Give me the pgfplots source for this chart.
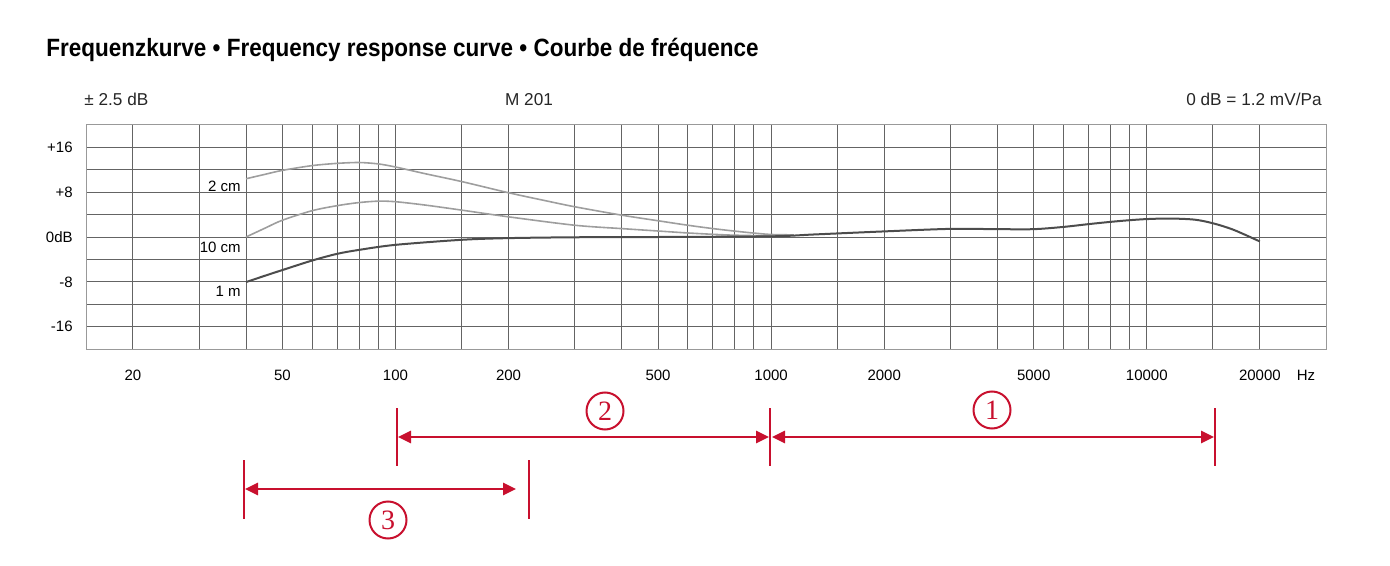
\documentclass[border=0pt]{standalone}
\usepackage{pgfplots}
\pgfplotsset{compat=1.18}
\usetikzlibrary{arrows.meta}
\usepackage{fontspec}
\setmainfont{Liberation Sans}
\newfontfamily\titlefont[FakeStretch=0.9]{Liberation Sans}
\newfontfamily\seriffont{Liberation Serif}
\definecolor{annred}{RGB}{200,16,46}
\definecolor{gridgray}{RGB}{100,100,100}
\begin{document}
\begin{tikzpicture}
\useasboundingbox (0,0) rectangle (695pt,-283pt);
\begin{axis}[
  at={(43pt,-174.5pt)}, anchor=south west,
  scale only axis, width=620pt, height=112pt,
  xmode=log, xmin=15, xmax=30000, ymin=-20, ymax=20,
  axis line style={draw=black!40, line width=0.5pt},
  xtick={20,50,100,200,500,1000,2000,5000,10000,20000},
  xticklabels={20,50,100,200,500,1000,2000,5000,10000,20000},
  minor xtick={30,40,60,70,80,90,150,300,400,600,700,800,900,1500,3000,4000,6000,7000,8000,9000,15000},
  ytick={-16,-8,0,8,16}, yticklabels={-16,-8,0dB,+8,+16},
  minor ytick={-20,-12,-4,4,12,20},
  grid=both,
  major grid style={draw=gridgray, line width=0.5pt},
  minor grid style={draw=gridgray, line width=0.5pt},
  major tick length=0pt, minor tick length=0pt,
  xticklabel style={font=\fontsize{7.5}{9}\selectfont, anchor=base, inner sep=0pt, yshift=-15.5pt},
  yticklabel style={font=\fontsize{7.5}{9}\selectfont, anchor=base east, inner sep=0pt, xshift=-6.5pt, yshift=-2.6pt},
  clip=false,
]
% 2 cm
\addplot[smooth, draw=black!38, line width=0.8pt] coordinates {
(40,10.4) (45,11.2) (50,11.9) (60,12.75) (70,13.15) (80,13.3) (90,13.05) (100,12.5) (120,11.3) (150,9.9) (200,7.9) (250,6.5) (300,5.4) (400,3.9) (500,2.9) (600,2.1) (700,1.5) (800,1.05) (900,0.7) (1000,0.45) (1150,0.38)};
% 10 cm
\addplot[smooth, draw=black!38, line width=0.8pt] coordinates {
(40,0) (45,1.6) (50,3.0) (60,4.7) (70,5.6) (80,6.15) (90,6.4) (100,6.3) (120,5.7) (150,4.8) (200,3.6) (300,2.1) (400,1.5) (500,1.07) (600,0.72) (700,0.48) (800,0.32) (1000,0.2) (1100,0.2)};
% 1 m
\addplot[smooth, draw=black!70, line width=1pt] coordinates {
(40,-8.05) (45,-6.9) (50,-5.9) (60,-4.2) (70,-3.0) (80,-2.3) (100,-1.4) (150,-0.5) (200,-0.2) (300,-0.05) (500,0) (1000,0.12) (1300,0.45) (2000,1.0) (3000,1.45) (4000,1.4) (5000,1.4) (6000,1.8) (7000,2.3) (8000,2.7) (9000,3.0) (10000,3.2) (11500,3.3) (13400,3.1) (15000,2.45) (17000,1.3) (20000,-0.8)};
\end{axis}
\begin{scope}[x=0.5pt,y=-0.5pt]
  \node[anchor=base west, inner sep=0pt, font=\titlefont\bfseries\fontsize{12.5}{14}\selectfont] at (46,57) {Frequenzkurve • Frequency response curve • Courbe de fréquence};
  \node[anchor=base west, inner sep=0pt, font=\fontsize{8.6}{10}\selectfont, text=black!85] at (84,106) {± 2.5 dB};
  \node[anchor=base, inner sep=0pt, font=\fontsize{8.6}{10}\selectfont, text=black!85] at (529,106) {M 201};
  \node[anchor=base east, inner sep=0pt, font=\fontsize{8.6}{10}\selectfont, text=black!85] at (1322,106) {0 dB = 1.2 mV/Pa};
  \node[anchor=base, inner sep=0pt, font=\fontsize{7.5}{9}\selectfont] at (1306,380) {Hz};
  \node[anchor=base east, inner sep=0pt, font=\fontsize{7.5}{9}\selectfont] at (241,191.5) {2 cm};
  \node[anchor=base east, inner sep=0pt, font=\fontsize{7.5}{9}\selectfont] at (241,253) {10 cm};
  \node[anchor=base east, inner sep=0pt, font=\fontsize{7.5}{9}\selectfont] at (241,296.5) {1 m};
  % red ranges
  \begin{scope}[annred, line width=1.35pt]
    \draw (397,408) -- (397,466);
    \draw (770,408) -- (770,466);
    \draw (1215,408) -- (1215,466);
    \draw (244,460) -- (244,519);
    \draw (529,460) -- (529,519);
    \draw[{Triangle[length=6.5pt,width=6pt]}-{Triangle[length=6.5pt,width=6pt]}] (398,437) -- (769,437);
    \draw[{Triangle[length=6.5pt,width=6pt]}-{Triangle[length=6.5pt,width=6pt]}] (772,437) -- (1214,437);
    \draw[{Triangle[length=6.5pt,width=6pt]}-{Triangle[length=6.5pt,width=6pt]}] (245,489) -- (516,489);
  \end{scope}
  \begin{scope}[every node/.style={draw=annred, circle, line width=1pt, minimum size=18.5pt, inner sep=0pt, text=annred, font=\seriffont\fontsize{14}{14}\selectfont}]
    \node at (605,411) {2};
    \node at (992,410) {1};
    \node at (388,520) {3};
  \end{scope}
\end{scope}
\end{tikzpicture}
\end{document}
